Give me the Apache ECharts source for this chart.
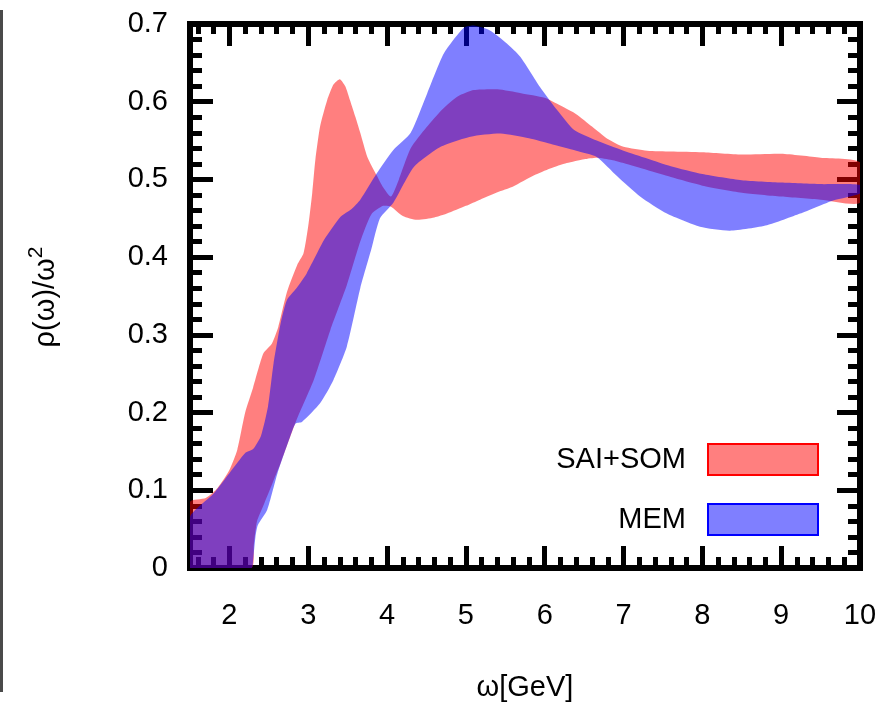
<!DOCTYPE html>
<html>
<head>
<meta charset="utf-8">
<script src="https://cdn.jsdelivr.net/npm/echarts@6/dist/echarts.min.js"></script>
<style>
html,body{margin:0;padding:0;background:#fff;}
#chart{width:878px;height:702px;}
</style>
</head>
<body>
<div id="chart"></div>
<script>
// ---- data ----
const saiUpper = [[1.5,0.085],[1.7,0.09],[1.85,0.103],[2.0,0.126],[2.1,0.152],[2.2,0.2],[2.3,0.232],[2.43,0.276],[2.54,0.289],[2.62,0.31],[2.73,0.355],[2.86,0.39],[2.94,0.405],[3.0,0.44],[3.05,0.482],[3.09,0.525],[3.15,0.568],[3.24,0.602],[3.32,0.622],[3.4,0.629],[3.47,0.62],[3.53,0.602],[3.6,0.58],[3.66,0.56],[3.75,0.529],[3.87,0.505],[3.95,0.49],[4.05,0.478],[4.15,0.5],[4.3,0.54],[4.5,0.567],[4.7,0.59],[4.9,0.607],[5.1,0.615],[5.4,0.616],[5.7,0.611],[6.0,0.605],[6.2,0.595],[6.4,0.584],[6.6,0.568],[6.8,0.552],[7.0,0.542],[7.3,0.537],[7.6,0.536],[8.0,0.535],[8.5,0.532],[9.0,0.533],[9.5,0.528],[10.0,0.522]];
const saiLower = [[1.5,0],[2.28,0],[2.31,0.03],[2.35,0.06],[2.43,0.08],[2.55,0.11],[2.65,0.135],[2.85,0.19],[3.07,0.242],[3.28,0.306],[3.49,0.364],[3.66,0.42],[3.8,0.455],[3.95,0.466],[4.05,0.465],[4.2,0.453],[4.38,0.448],[4.6,0.451],[4.76,0.456],[5.0,0.466],[5.18,0.474],[5.44,0.485],[5.6,0.491],[5.86,0.505],[6.07,0.514],[6.28,0.521],[6.5,0.526],[6.66,0.528],[6.85,0.525],[7.0,0.521],[7.3,0.512],[7.6,0.503],[8.0,0.492],[8.5,0.483],[9.0,0.478],[9.5,0.474],[10.0,0.47]];
const memUpper = [[1.5,0.066],[1.8,0.096],[2.0,0.122],[2.2,0.148],[2.3,0.153],[2.4,0.17],[2.49,0.208],[2.56,0.263],[2.65,0.315],[2.73,0.345],[2.85,0.36],[2.98,0.379],[3.2,0.422],[3.41,0.452],[3.55,0.462],[3.66,0.474],[3.87,0.508],[4.08,0.538],[4.3,0.56],[4.51,0.611],[4.72,0.662],[4.97,0.695],[5.1,0.698],[5.3,0.692],[5.52,0.675],[5.69,0.658],[5.94,0.619],[6.16,0.589],[6.37,0.564],[6.66,0.55],[7.0,0.537],[7.3,0.527],[7.6,0.517],[8.0,0.507],[8.5,0.499],[9.0,0.496],[9.5,0.494],[10.0,0.493]];
const memLower = [[1.5,0],[2.28,0],[2.3,0.01],[2.33,0.04],[2.36,0.055],[2.48,0.075],[2.61,0.122],[2.77,0.169],[2.84,0.186],[2.92,0.188],[3.15,0.212],[3.32,0.242],[3.49,0.285],[3.66,0.36],[3.8,0.41],[3.91,0.45],[4.08,0.47],[4.34,0.516],[4.68,0.542],[5.06,0.555],[5.44,0.559],[5.8,0.553],[6.07,0.546],[6.4,0.537],[6.66,0.529],[6.92,0.504],[7.21,0.478],[7.55,0.456],[7.97,0.439],[8.35,0.434],[8.82,0.441],[9.24,0.456],[9.66,0.473],[10.0,0.482]];

const seriesNames = ['SAI+SOM', 'MEM'];
const xMajorTicks = [2,3,4,5,6,7,8,9,10];
const xMinorTicks = [1.6,1.8,2.2,2.4,2.6,2.8,3.2,3.4,3.6,3.8,4.2,4.4,4.6,4.8,5.2,5.4,5.6,5.8,6.2,6.4,6.6,6.8,7.2,7.4,7.6,7.8,8.2,8.4,8.6,8.8,9.2,9.4,9.6,9.8];
const xRange = [1.5, 10];
const yRange = [0, 0.7];
const yStep = 0.1;
const xTitle = 'ω[GeV]';

// ---- styling ----
const FONT = "'Liberation Sans', Arial, Helvetica, sans-serif";
const FS = 29;
const fills = ['rgba(255,0,0,0.5)', 'rgba(0,0,255,0.5)'];
const strokes = ['#ff0000', '#0000ff'];

function bandSeries(name, upper, lower, idx) {
  return {
    name: name,
    type: 'custom',
    xAxisIndex: 0,
    yAxisIndex: 0,
    clip: true,
    z: 2 + idx,
    itemStyle: { color: fills[idx] },
    data: [[upper[0][0], upper[0][1]]],
    renderItem: function (params, api) {
      const pts = upper.map(p => api.coord(p)).concat(lower.slice().reverse().map(p => api.coord(p)));
      return {
        type: 'polygon',
        shape: { points: pts, smooth: 0.2 },
        style: { fill: fills[idx], stroke: null }
      };
    }
  };
}

const tickLine = { color: '#000', width: 5 };
function xAx(pos, ticks, len, showLine, showLabel) {
  const a = {
    type: 'value', position: pos, min: xRange[0], max: xRange[1],
    splitLine: { show: false },
    axisLine: { show: showLine, onZero: false, lineStyle: { color: '#000', width: 6, cap: 'square' } },
    axisTick: { show: true, inside: true, length: len, customValues: ticks, lineStyle: tickLine },
    axisLabel: { show: showLabel, customValues: xMajorTicks, margin: 33, fontSize: FS, fontFamily: FONT, color: '#000' }
  };
  if (showLabel) {
    a.name = xTitle;
    a.nameLocation = 'middle';
    a.nameGap = 120;
    a.nameTextStyle = { fontSize: FS, fontFamily: FONT, color: '#000', verticalAlign: 'middle' };
  }
  return a;
}
function yAx(pos, showLabel) {
  return {
    type: 'value', position: pos, min: yRange[0], max: yRange[1], interval: yStep,
    splitLine: { show: false },
    axisLine: { show: true, onZero: false, lineStyle: { color: '#000', width: 6, cap: 'square' } },
    axisTick: { show: true, inside: true, length: 23, lineStyle: tickLine },
    minorTick: { show: true, splitNumber: 5, length: 12, lineStyle: tickLine },
    axisLabel: { show: showLabel, margin: 22, fontSize: FS, fontFamily: FONT, color: '#000' }
  };
}

const chart = echarts.init(document.getElementById('chart'), null, { renderer: 'canvas' });
chart.setOption({
  animation: false,
  backgroundColor: '#fff',
  grid: { left: 190, right: 18, top: 24, bottom: 134, containLabel: false, outerBoundsMode: 'none' },
  xAxis: [
    xAx('bottom', xMajorTicks, 22, true, true),
    xAx('bottom', xMinorTicks, 11, false, false),
    xAx('top', xMajorTicks, 22, true, false),
    xAx('top', xMinorTicks, 10, false, false)
  ],
  yAxis: [ yAx('left', true), yAx('right', false) ],
  legend: {
    orient: 'vertical', align: 'right', right: 59, top: 443, padding: 0,
    itemWidth: 110, itemHeight: 31, itemGap: 27, icon: 'rect',
    selectedMode: false,
    textStyle: { fontSize: FS, fontFamily: FONT, color: '#000', padding: [0, 17, 0, 0] },
    data: [
      { name: seriesNames[0], icon: 'rect', itemStyle: { color: fills[0], borderColor: strokes[0], borderWidth: 2 } },
      { name: seriesNames[1], icon: 'rect', itemStyle: { color: fills[1], borderColor: strokes[1], borderWidth: 2 } }
    ]
  },
  graphic: [
    { type: 'rect', left: 0, top: 10, shape: { x: 0, y: 0, width: 3, height: 682 }, style: { fill: '#4a4a4a' } },
    {
      type: 'text', x: 43, y: 297, rotation: Math.PI / 2,
      style: {
        text: '{a|ρ(ω)/ω}{b|2}',
        align: 'center', verticalAlign: 'middle',
        rich: {
          a: { fontSize: FS, fontFamily: FONT, fill: '#000', verticalAlign: 'bottom' },
          b: { fontSize: 21, fontFamily: FONT, fill: '#000', verticalAlign: 'bottom', padding: [0, 0, 13, 0] }
        }
      }
    }
  ],
  series: [
    bandSeries(seriesNames[0], saiUpper, saiLower, 0),
    bandSeries(seriesNames[1], memUpper, memLower, 1)
  ]
});
</script>
</body>
</html>
